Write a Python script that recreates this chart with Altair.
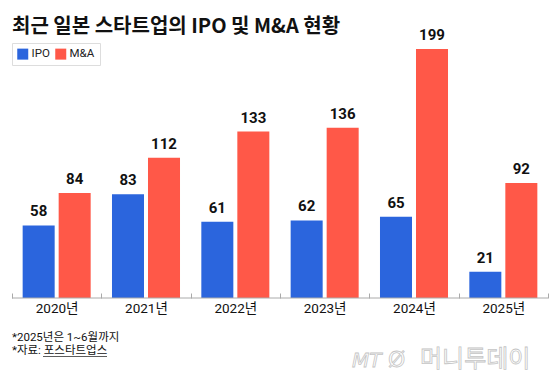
import altair as alt
import pandas as pd

years = ["2020년", "2021년", "2022년", "2023년", "2024년", "2025년"]
ipo = [58, 83, 61, 62, 65, 21]
mna = [84, 112, 133, 136, 199, 92]
series = ["IPO", "M&A"]
colors = ["#2B65DD", "#FF5848"]
notes = ["*2025년은 1~6월까지", "*자료: 포스타트업스"]
title_text = "최근 일본 스타트업의 IPO 및 M&A 현황"

rows = []
for i, y in enumerate(years):
    rows.append({"year": y, "series": "IPO", "value": ipo[i]})
    rows.append({"year": y, "series": "M&A", "value": mna[i]})
df = pd.DataFrame(rows)

FONT = "Roboto, Noto Sans CJK KR, sans-serif"
W, H = 536, 249

x_enc = alt.X("year:N", sort=years, title=None,
              scale=alt.Scale(paddingInner=0, paddingOuter=0),
              axis=alt.Axis(labelAngle=0, labelFontSize=13.5, labelFont=FONT,
                            labelColor="#111", tickBand="extent", tickColor="#aaa",
                            tickSize=5, offset=-5, domain=False, labelPadding=3))
xoff = alt.XOffset("series:N", sort=series,
                   scale=alt.Scale(paddingInner=0.111, paddingOuter=0.296))
y_enc = alt.Y("value:Q", scale=alt.Scale(domain=[0, 199], nice=False), axis=None)

base = alt.Chart(df)

bars = base.mark_bar().encode(
    x=x_enc, xOffset=xoff, y=y_enc,
    color=alt.Color("series:N", sort=series,
                    scale=alt.Scale(domain=series, range=colors),
                    legend=alt.Legend(orient="none", legendX=0, legendY=-6,
                                      direction="horizontal", title=None,
                                      symbolType="square", symbolSize=121,
                                      symbolStrokeWidth=0, labelFontSize=11.5,
                                      labelFont=FONT, labelColor="#222",
                                      padding=5, strokeColor="#ddd",
                                      fillColor="white", columnPadding=5,
                                      labelOffset=3)),
)

labels = base.mark_text(dy=-6, baseline="bottom", fontSize=15, fontWeight="bold",
                        font=FONT, color="#111").encode(
    x=alt.X("year:N", sort=years), xOffset=alt.XOffset("series:N", sort=series),
    y="value:Q", text="value:Q")

one = pd.DataFrame({"a": [0]})
baseline = alt.Chart(one).mark_rule(color="#aaa", strokeWidth=1).encode(
    x=alt.value(0), x2=alt.value(W), y=alt.value(H))

title = alt.Chart(one).mark_text(
    align="left", baseline="alphabetic", fontSize=20, fontWeight="bold",
    font="Noto Sans CJK KR", color="#111").encode(
    x=alt.value(0), y=alt.value(-16), text=alt.value(title_text))

note = alt.Chart(one).mark_text(
    align="left", baseline="top", fontSize=11.5, font=FONT, color="#111",
    lineHeight=12.5).encode(x=alt.value(0), y=alt.value(283), text=alt.value(notes))
underline = alt.Chart(one).mark_rule(color="#333", strokeWidth=0.8).encode(
    x=alt.value(31), x2=alt.value(95), y=alt.value(307.5))

wm1 = alt.Chart(one).mark_text(
    align="left", baseline="alphabetic", fontSize=20, fontStyle="italic",
    font="DejaVu Sans", fill="white", stroke="#c4c4c4", strokeWidth=0.8).encode(
    x=alt.value(340), y=alt.value(318), text=alt.value("MT"))
wm2 = alt.Chart(one).mark_text(
    align="left", baseline="alphabetic", fontSize=22,
    font="DejaVu Sans", fill="white", stroke="#c4c4c4", strokeWidth=0.8).encode(
    x=alt.value(376), y=alt.value(318), text=alt.value("Ø"))
wm3 = alt.Chart(one).mark_text(
    align="left", baseline="alphabetic", fontSize=24, font="Noto Sans CJK KR",
    fill="white", stroke="#c4c4c4", strokeWidth=0.8).encode(
    x=alt.value(408), y=alt.value(318), text=alt.value("머니투데이"))

chart = alt.layer(bars, labels, baseline, title, note, underline, wm1, wm2, wm3).properties(
    width=W, height=H,
    autosize=alt.AutoSizeParams(type="none"),
    padding={"left": 4, "top": 41, "right": 4, "bottom": 78},
).configure_view(stroke=None)

chart.save("out.html", embed_options={"renderer": "svg", "actions": False})
